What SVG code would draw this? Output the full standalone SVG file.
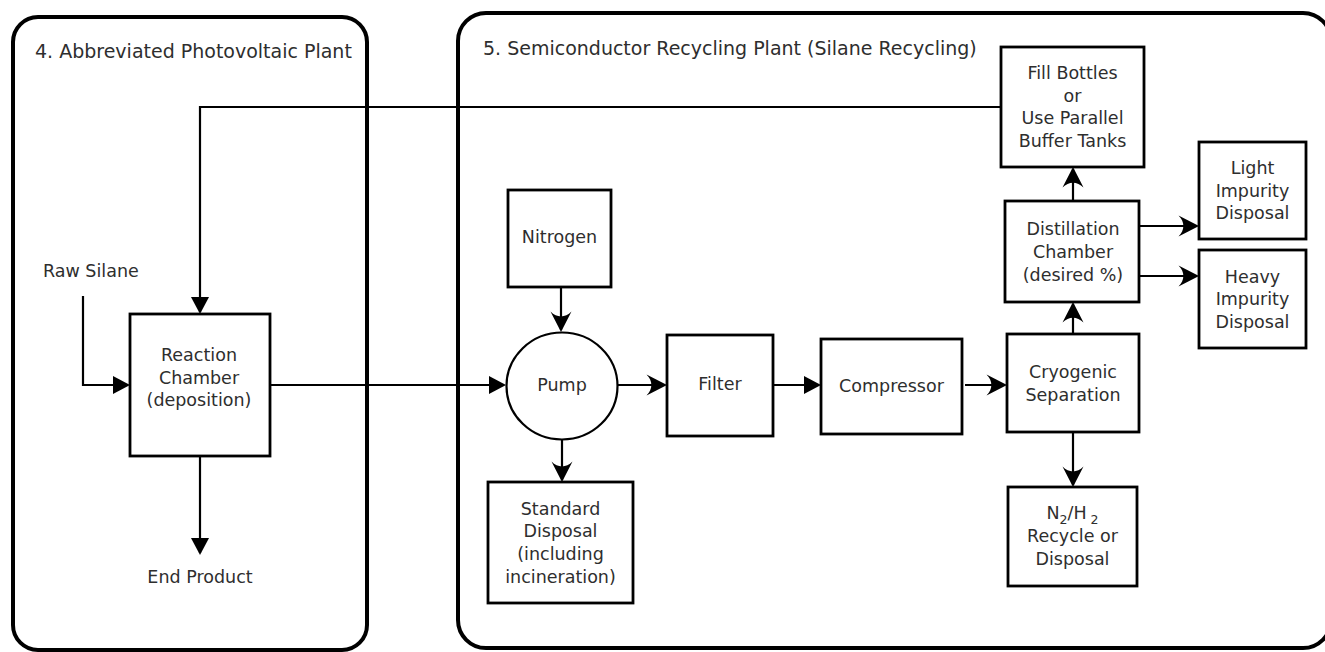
<svg xmlns="http://www.w3.org/2000/svg" width="1325" height="652" viewBox="0 0 1325 652">
<style>
.container{fill:none;stroke:#000;stroke-width:4}
.box{fill:#fff;stroke:#000;stroke-width:2.8}
.conn{fill:none;stroke:#000;stroke-width:2.2}
.lbl{font-family:"DejaVu Sans",sans-serif;font-size:17.5px;fill:#2e2e2e;text-anchor:middle}
.title{font-family:"DejaVu Sans",sans-serif;font-size:19px;fill:#2e2e2e}
.ltxt{font-family:"DejaVu Sans",sans-serif;font-size:17.5px;fill:#2e2e2e}
</style>
<defs>
<marker id="tri" markerUnits="userSpaceOnUse" markerWidth="18" markerHeight="18" refX="15" refY="9" orient="auto" overflow="visible">
<path d="M0,0 L17,9 L0,18 z" fill="#000"/>
</marker>
<marker id="swept" markerUnits="userSpaceOnUse" markerWidth="20" markerHeight="20" refX="18.5" refY="0" orient="auto" overflow="visible">
<path d="M0,-10.5 L20.5,0 L0,10.5 C6.5,4 6.5,-4 0,-10.5 z" fill="#000"/>
</marker>
</defs>

<g id="plant4">
<rect class="container" x="13" y="17" width="354" height="633" rx="25" ry="25"/>
<text class="title" x="35" y="58">4. Abbreviated Photovoltaic Plant</text>
</g>
<g id="plant5">
<rect class="container" x="458" y="13" width="873" height="635" rx="28" ry="28"/>
<text class="title" x="483" y="55">5. Semiconductor Recycling Plant (Silane Recycling)</text>
</g>

<g id="connectors">
<path class="conn" d="M1001,107 H200 V312" marker-end="url(#tri)"/>
<path class="conn" d="M83,296 V385 H128" marker-end="url(#tri)"/>
<path class="conn" d="M200,456 V553" marker-end="url(#tri)"/>
<path class="conn" d="M270,385 H504" marker-end="url(#tri)"/>
<path class="conn" d="M561,287 V330" marker-end="url(#swept)"/>
<path class="conn" d="M618,385 H665" marker-end="url(#swept)"/>
<path class="conn" d="M562,439 V480" marker-end="url(#swept)"/>
<path class="conn" d="M773,385 H819" marker-end="url(#tri)"/>
<path class="conn" d="M965,385 H1005" marker-end="url(#swept)"/>
<path class="conn" d="M1073,334 V304" marker-end="url(#swept)"/>
<path class="conn" d="M1073,432 V485" marker-end="url(#swept)"/>
<path class="conn" d="M1073,201 V169" marker-end="url(#swept)"/>
<path class="conn" d="M1139,226 H1197" marker-end="url(#swept)"/>
<path class="conn" d="M1139,276 H1197" marker-end="url(#swept)"/>
</g>

<g id="raw-silane">
<text class="ltxt" x="43" y="277">Raw Silane</text>
</g>
<g id="end-product">
<text class="lbl" x="200" y="583">End Product</text>
</g>

<g id="reaction-chamber">
<rect class="box" x="130" y="314" width="140" height="142"/>
<text class="lbl" x="199" y="361">Reaction</text>
<text class="lbl" x="199" y="383.5">Chamber</text>
<text class="lbl" x="199" y="406">(deposition)</text>
</g>

<g id="nitrogen">
<rect class="box" x="508" y="190" width="103" height="97"/>
<text class="lbl" x="559.5" y="243">Nitrogen</text>
</g>

<g id="pump">
<ellipse cx="562" cy="386" rx="55.5" ry="53.5" fill="#fff" stroke="#000" stroke-width="2.2"/>
<text class="lbl" x="562" y="391">Pump</text>
</g>

<g id="standard-disposal">
<rect class="box" x="488" y="482" width="145" height="121"/>
<text class="lbl" x="560.5" y="514.5">Standard</text>
<text class="lbl" x="560.5" y="537.2">Disposal</text>
<text class="lbl" x="560.5" y="559.9">(including</text>
<text class="lbl" x="560.5" y="582.6">incineration)</text>
</g>

<g id="filter">
<rect class="box" x="667" y="335" width="106" height="101"/>
<text class="lbl" x="720" y="390">Filter</text>
</g>

<g id="compressor">
<rect class="box" x="821" y="339" width="141" height="95"/>
<text class="lbl" x="891.5" y="392">Compressor</text>
</g>

<g id="cryogenic">
<rect class="box" x="1007" y="334" width="132" height="98"/>
<text class="lbl" x="1073" y="378">Cryogenic</text>
<text class="lbl" x="1073" y="400.5">Separation</text>
</g>

<g id="n2h2">
<rect class="box" x="1008" y="487" width="129" height="99"/>
<text class="lbl" x="1072.5" y="518.5">N<tspan font-size="12.5" dy="5">2</tspan><tspan dy="-5">/H</tspan><tspan font-size="12.5" dx="4" dy="5">2</tspan></text>
<text class="lbl" x="1072.5" y="541.5">Recycle or</text>
<text class="lbl" x="1072.5" y="564.5">Disposal</text>
</g>

<g id="distillation">
<rect class="box" x="1005" y="201" width="134" height="101"/>
<text class="lbl" x="1073" y="235">Distillation</text>
<text class="lbl" x="1073" y="258">Chamber</text>
<text class="lbl" x="1073" y="281">(desired %)</text>
</g>

<g id="fill-bottles">
<rect class="box" x="1001" y="47" width="143" height="120"/>
<text class="lbl" x="1072.5" y="79">Fill Bottles</text>
<text class="lbl" x="1072.5" y="101.7">or</text>
<text class="lbl" x="1072.5" y="124.4">Use Parallel</text>
<text class="lbl" x="1072.5" y="147">Buffer Tanks</text>
</g>

<g id="light-impurity">
<rect class="box" x="1199" y="142" width="107" height="97"/>
<text class="lbl" x="1252.5" y="174">Light</text>
<text class="lbl" x="1252.5" y="196.5">Impurity</text>
<text class="lbl" x="1252.5" y="219">Disposal</text>
</g>

<g id="heavy-impurity">
<rect class="box" x="1199" y="250" width="107" height="98"/>
<text class="lbl" x="1252.5" y="282.5">Heavy</text>
<text class="lbl" x="1252.5" y="305">Impurity</text>
<text class="lbl" x="1252.5" y="327.5">Disposal</text>
</g>
</svg>
